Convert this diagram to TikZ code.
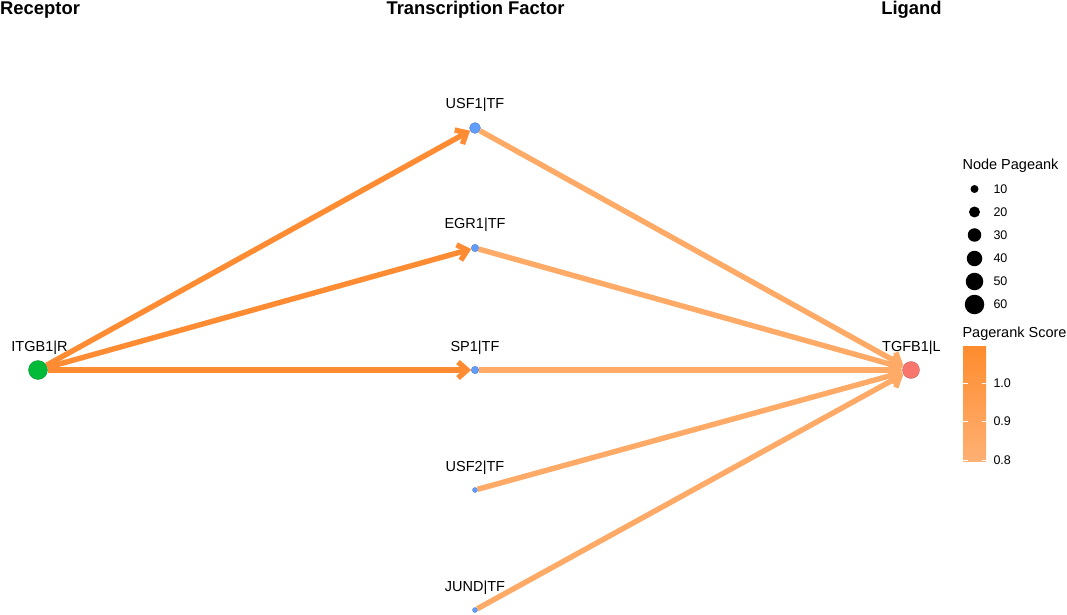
\documentclass[tikz,border=0pt]{standalone}
\usepackage{fontspec}
\setmainfont{Liberation Sans}
\usetikzlibrary{arrows.meta}

\definecolor{recnode}{HTML}{00BA38}
\definecolor{tfnode}{HTML}{619CFF}
\definecolor{lignode}{HTML}{F8766D}
\definecolor{recedge}{HTML}{FF8C33}
\definecolor{ligedge}{HTML}{FFAA66}
\definecolor{bartop}{HTML}{FF8C2E}
\definecolor{barbot}{HTML}{FFB074}

\begin{document}
\begin{tikzpicture}[x=1pt, y=1pt,
  vert/.style={circle, inner sep=0pt, draw=#1!75!black, line width=0.3pt, fill=#1},
  lbl/.style={anchor=base, font=\fontsize{14.5}{17}\selectfont},
  head/.style={anchor=base, font=\fontsize{18.4}{21}\selectfont\bfseries},
  legtxt/.style={anchor=west, font=\fontsize{12.5}{14}\selectfont},
  legdot/.style={circle, inner sep=0pt, fill=black},
  edge/.style={line width=5.4pt, draw=#1,
    -{Straight Barb[length=9pt, width=16pt, line join=miter]}}]
  \useasboundingbox (0,0) rectangle (1067,614);

  % Column headings
  \node[head, anchor=base west, inner xsep=0pt] (hrec) at (0, 599.5) {Receptor};
  \node[head] (htf) at (475.5, 599.5) {Transcription Factor};
  \node[head] (hlig) at (911.5, 599.5) {Ligand};

  % Vertices
  \node[vert=recnode, minimum size=19pt] (itgb1) at (38, 244) {};
  \node[vert=tfnode, minimum size=11pt] (usf1) at (475, 486) {};
  \node[vert=tfnode, minimum size=7.5pt] (egr1) at (475, 366) {};
  \node[vert=tfnode, minimum size=7.5pt] (sp1) at (475, 244) {};
  \node[vert=tfnode, minimum size=5pt] (usf2) at (475, 124) {};
  \node[vert=tfnode, minimum size=5pt] (jund) at (475, 4) {};
  \node[vert=lignode, minimum size=17pt] (tgfb1) at (911, 244) {};

  % Vertex labels
  \node[lbl] (itgb1lbl) at (39.5, 263) {ITGB1|R};
  \node[lbl] (usf1lbl) at (475, 505) {USF1|TF};
  \node[lbl] (egr1lbl) at (475, 385) {EGR1|TF};
  \node[lbl] (sp1lbl) at (475, 263) {SP1|TF};
  \node[lbl] (usf2lbl) at (475, 143) {USF2|TF};
  \node[lbl] (jundlbl) at (475, 23) {JUND|TF};
  \node[lbl] (tgfb1lbl) at (911.5, 263) {TGFB1|L};

  % Receptor -> TF
  \draw[edge=recedge] (itgb1) -- (usf1);
  \draw[edge=recedge] (itgb1) -- (egr1);
  \draw[edge=recedge] (itgb1) -- (sp1);
  % TF -> Ligand
  \draw[edge=ligedge] (usf1) -- (tgfb1);
  \draw[edge=ligedge] (egr1) -- (tgfb1);
  \draw[edge=ligedge] (sp1) -- (tgfb1);
  \draw[edge=ligedge] (usf2) -- (tgfb1);
  \draw[edge=ligedge] (jund) -- (tgfb1);

  % Legend: node size
  \node[legtxt, font=\fontsize{14.5}{17}\selectfont] (sizetitle) at (959, 448.5) {Node Pageank};
  \node[legdot, minimum size=8pt] (dot10) at (974.5, 425) {};
  \node[legdot, minimum size=11pt] (dot20) at (974.5, 402) {};
  \node[legdot, minimum size=13.5pt] (dot30) at (974.5, 379) {};
  \node[legdot, minimum size=15.5pt] (dot40) at (974.5, 355.5) {};
  \node[legdot, minimum size=17.5pt] (dot50) at (974.5, 332.5) {};
  \node[legdot, minimum size=19.5pt] (dot60) at (974.5, 309.5) {};
  \node[legtxt] (txt10) at (990, 425) {10};
  \node[legtxt] (txt20) at (990, 402) {20};
  \node[legtxt] (txt30) at (990, 379) {30};
  \node[legtxt] (txt40) at (990, 355.5) {40};
  \node[legtxt] (txt50) at (990, 332.5) {50};
  \node[legtxt] (txt60) at (990, 309.5) {60};

  % Legend: score colour bar
  \node[legtxt, font=\fontsize{14.5}{17}\selectfont] (scoretitle) at (959, 280.5) {Pagerank Score};
  \shade[top color=bartop, bottom color=barbot] (963, 152.5) rectangle (986, 267.5);
  \foreach \yy in {153.5, 192.5, 231} {
    \draw[white, line width=0.6pt] (963, \yy) -- (967.5, \yy);
    \draw[white, line width=0.6pt] (981.5, \yy) -- (986, \yy);
  }
  \node[legtxt] (tick10) at (990, 231) {1.0};
  \node[legtxt] (tick09) at (990, 192.5) {0.9};
  \node[legtxt] (tick08) at (990, 153.5) {0.8};
\end{tikzpicture}
\end{document}
